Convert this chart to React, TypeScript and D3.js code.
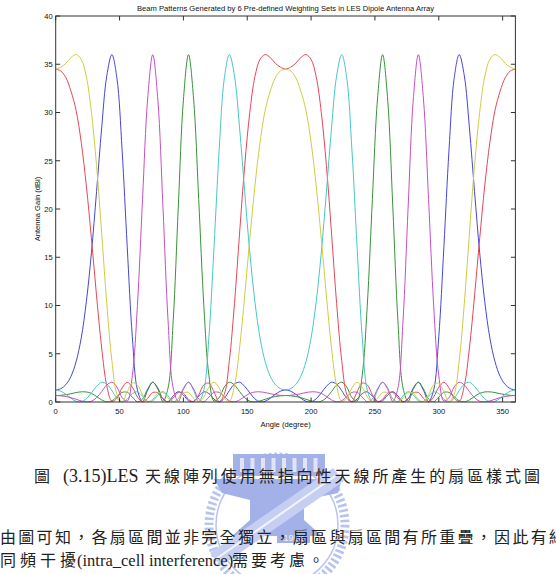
import React from "react";
import * as d3 from "d3";

// ---------- data ----------
const angles = [
  0, 4, 8, 12, 16, 20, 24, 28, 32, 36, 40, 44, 48, 52, 56, 60, 64, 68, 72, 76, 80, 84, 88, 92, 96, 100,
  104, 108, 112, 116, 120, 124, 128, 132, 136, 140, 144, 148, 152, 156, 160, 164, 168, 172, 176, 180,
  184, 188, 192, 196, 200, 204, 208, 212, 216, 220, 224, 228, 232, 236, 240, 244, 248, 252, 256, 260,
  264, 268, 272, 276, 280, 284, 288, 292, 296, 300, 304, 308, 312, 316, 320, 324, 328, 332, 336, 340,
  344, 348, 352, 356, 360,
];

const blueGain = [
  1.25, 1.38, 1.81, 2.67, 4.19, 6.64, 10.4, 15.5, 21.8, 28.4, 33.8, 36.0, 33.5, 26.1, 16.1, 6.77, 1.24, 0.04,
  1.21, 2.05, 1.44, 0.32, 0.04, 0.63, 1.07, 0.73, 0.13, 0.07, 0.61, 1.05, 0.87, 0.30, 0.0, 0.38, 1.18, 1.85,
  2.05, 1.62, 0.95, 0.33, 0.02, 0.07, 0.39, 0.80, 1.12, 1.25,
  1.12, 0.80, 0.39, 0.07, 0.02, 0.33, 0.95, 1.62, 2.05, 1.85, 1.18, 0.38, 0.0, 0.30, 0.87, 1.05, 0.61, 0.07,
  0.13, 0.73, 1.07, 0.63, 0.04, 0.32, 1.44, 2.05, 1.21, 0.04, 1.24, 6.77, 16.1, 26.1, 33.5, 36.0, 33.8, 28.4,
  21.8, 15.5, 10.4, 6.64, 4.19, 2.67, 1.81, 1.38, 1.25,
];

const greenGain = [
  0.67, 0.69, 0.76, 0.86, 0.98, 1.05, 1.04, 0.89, 0.57, 0.22, 0.01, 0.13, 0.56, 0.99, 1.0, 0.51, 0.02, 0.30,
  1.35, 2.04, 1.32, 0.06, 1.45, 8.4, 20.2, 31.3, 36.0, 31.4, 21.0, 10.0, 2.73, 0.10, 0.45, 1.54, 2.05, 1.76,
  1.08, 0.45, 0.08, 0.0, 0.11, 0.28, 0.45, 0.57, 0.64, 0.67,
  0.64, 0.57, 0.45, 0.28, 0.11, 0.0, 0.08, 0.45, 1.08, 1.76, 2.05, 1.54, 0.45, 0.10, 2.73, 10.0, 21.0, 31.4,
  36.0, 31.3, 20.2, 8.4, 1.45, 0.06, 1.32, 2.04, 1.35, 0.30, 0.02, 0.51, 1.0, 0.99, 0.56, 0.13, 0.01, 0.22,
  0.57, 0.89, 1.04, 1.05, 0.98, 0.86, 0.76, 0.69, 0.67,
];

const redGain = [
  34.5, 34.3, 33.6, 32.2, 30.2, 26.9, 22.4, 16.9, 11.0, 5.6, 1.70, 0.07, 0.39, 1.47, 2.04, 1.54, 0.53, 0.0,
  0.38, 0.98, 0.95, 0.35, 0.0, 0.42, 0.99, 0.91, 0.28, 0.03, 0.75, 1.77, 1.96, 1.04, 0.05, 0.8, 4.3, 10.2,
  17.5, 24.5, 30.0, 33.7, 35.5, 36.0, 35.7, 35.1, 34.7, 34.5,
  34.7, 35.1, 35.7, 36.0, 35.5, 33.7, 30.0, 24.5, 17.5, 10.2, 4.3, 0.8, 0.05, 1.04, 1.96, 1.77, 0.75, 0.03,
  0.28, 0.91, 0.99, 0.42, 0.0, 0.35, 0.95, 0.98, 0.38, 0.0, 0.53, 1.54, 2.04, 1.47, 0.39, 0.07, 1.70, 5.6,
  11.0, 16.9, 22.4, 26.9, 30.2, 32.2, 33.6, 34.3, 34.5,
];

const cyanGain = [
  1.25, 1.12, 0.80, 0.39, 0.07, 0.02, 0.33, 0.95, 1.62, 2.05, 1.85, 1.18, 0.38, 0.0, 0.30, 0.87, 1.05, 0.61,
  0.07, 0.13, 0.73, 1.07, 0.63, 0.04, 0.32, 1.44, 2.05, 1.21, 0.04, 1.24, 6.77, 16.1, 26.1, 33.5, 36.0, 33.8,
  28.4, 21.8, 15.5, 10.4, 6.64, 4.19, 2.67, 1.81, 1.38, 1.25,
  1.38, 1.81, 2.67, 4.19, 6.64, 10.4, 15.5, 21.8, 28.4, 33.8, 36.0, 33.5, 26.1, 16.1, 6.77, 1.24, 0.04, 1.21,
  2.05, 1.44, 0.32, 0.04, 0.63, 1.07, 0.73, 0.13, 0.07, 0.61, 1.05, 0.87, 0.30, 0.0, 0.38, 1.18, 1.85, 2.05,
  1.62, 0.95, 0.33, 0.02, 0.07, 0.39, 0.80, 1.12, 1.25,
];

const magentaGain = [
  0.67, 0.64, 0.57, 0.45, 0.28, 0.11, 0.0, 0.08, 0.45, 1.08, 1.76, 2.05, 1.54, 0.45, 0.10, 2.73, 10.0, 21.0,
  31.4, 36.0, 31.3, 20.2, 8.4, 1.45, 0.06, 1.32, 2.04, 1.35, 0.30, 0.02, 0.51, 1.0, 0.99, 0.56, 0.13, 0.01,
  0.22, 0.57, 0.89, 1.04, 1.05, 0.98, 0.86, 0.76, 0.69, 0.67,
  0.69, 0.76, 0.86, 0.98, 1.05, 1.04, 0.89, 0.57, 0.22, 0.01, 0.13, 0.56, 0.99, 1.0, 0.51, 0.02, 0.30, 1.35,
  2.04, 1.32, 0.06, 1.45, 8.4, 20.2, 31.3, 36.0, 31.4, 21.0, 10.0, 2.73, 0.10, 0.45, 1.54, 2.05, 1.76, 1.08,
  0.45, 0.08, 0.0, 0.11, 0.28, 0.45, 0.57, 0.64, 0.67,
];

const yellowGain = [
  34.5, 34.7, 35.1, 35.7, 36.0, 35.5, 33.7, 30.0, 24.5, 17.5, 10.2, 4.3, 0.8, 0.05, 1.04, 1.96, 1.77, 0.75,
  0.03, 0.28, 0.91, 0.99, 0.42, 0.0, 0.35, 0.95, 0.98, 0.38, 0.0, 0.53, 1.54, 2.04, 1.47, 0.39, 0.07, 1.70,
  5.6, 11.0, 16.9, 22.4, 26.9, 30.2, 32.2, 33.6, 34.3, 34.5,
  34.3, 33.6, 32.2, 30.2, 26.9, 22.4, 16.9, 11.0, 5.6, 1.70, 0.07, 0.39, 1.47, 2.04, 1.54, 0.53, 0.0, 0.38,
  0.98, 0.95, 0.35, 0.0, 0.42, 0.99, 0.91, 0.28, 0.03, 0.75, 1.77, 1.96, 1.04, 0.05, 0.8, 4.3, 10.2, 17.5,
  24.5, 30.0, 33.7, 35.5, 36.0, 35.7, 35.1, 34.7, 34.5,
];

const seriesOrder = ["blue", "green", "red", "cyan", "magenta", "yellow"];
const seriesValues = [blueGain, greenGain, redGain, cyanGain, magentaGain, yellowGain];
const seriesColors = ["#4646d6", "#38923a", "#e24858", "#48c6c6", "#c450c4", "#cccc46"];

const xTicks = [0, 50, 100, 150, 200, 250, 300, 350];
const yTicks = [0, 5, 10, 15, 20, 25, 30, 35, 40];

const titleText = "Beam Patterns Generated by 6 Pre-defined Weighting Sets in LES Dipole Antenna Array";
const xLabelText = "Angle (degree)";
const yLabelText = "Antenna Gain (dBi)";

const captionFig = "圖";
const captionNum = "(3.15)LES";
const captionRest = "天線陣列使用無指向性天線所產生的扇區樣式圖";
const bodyLine2 = "由圖可知，各扇區間並非完全獨立，扇區與扇區間有所重疊，因此有細";
const bodyLine3a = "同頻干擾";
const bodyLine3b = "(intra_cell interference)";
const bodyLine3c = "需要考慮。";
const logoYear = "1958";

// ---------- layout ----------
const W = 556;
const H = 574;
const L = 55.7;
const R = 515.4;
const T = 16;
const B = 402;

const CJK = "'Noto Sans CJK TC', 'Noto Sans CJK SC', sans-serif";
const SERIF = "'Liberation Serif', 'DejaVu Serif', serif";
const SANS = "'Liberation Sans', Arial, sans-serif";

function Watermark() {
  const cx = 277;
  const cy = 525;
  const c = "#b9c4ee";
  const c2 = "#a3b1e8";
  return (
    <g>
      <circle cx={cx} cy={cy} r={68} fill="none" stroke={c} strokeWidth={9} strokeDasharray="2.6 2.6" />
      <circle cx={cx} cy={cy} r={61} fill="none" stroke={c} strokeWidth={1.5} />
      <rect x={233} y={454} width={92} height={22} fill={c2} />
      {[0, 1, 2, 3, 4, 5, 6, 7].map((i) => (
        <rect key={i} x={240 + i * 10.5} y={458} width={4} height={14} fill="#dfe4f8" />
      ))}
      <path d="M214,479 L342,479 L338,493 L304,500 L304,520 L322,536 L232,536 L250,520 L250,500 L222,493 Z" fill={c2} />
      <path d="M210,553 L333,468 L344,481 L221,566 Z" fill="#c6cff2" />
      <path d="M216,559 L338,474" stroke="#f2f4fc" strokeWidth={2} />
      <rect x={277} y={531} width={33} height={12} fill={c2} />
      <text x={293.5} y={540.5} textAnchor="middle" fontFamily={SANS} fontSize={9} fill="#eef1fb">{logoYear}</text>
    </g>
  );
}

export default function App() {
  const x = d3.scaleLinear().domain([0, 360]).range([L, R]);
  const y = d3.scaleLinear().domain([0, 40]).range([B, T]);
  const line = d3
    .line<number>()
    .x((_, i) => x(angles[i]))
    .y((d) => y(d))
    .curve(d3.curveCatmullRom.alpha(0.5));

  const tickLen = 4.5;

  return (
    <svg
      width={W}
      height={H}
      viewBox={`0 0 ${W} ${H}`}
      style={{ position: "absolute", left: 0, top: 0, display: "block" }}
    >
      <rect x={0} y={0} width={W} height={H} fill="#ffffff" />
      <defs>
        <clipPath id="plotClip">
          <rect x={L} y={T} width={R - L} height={B - T + 0.5} />
        </clipPath>
      </defs>

      {/* title */}
      <text x={(L + R) / 2} y={10.5} textAnchor="middle" fontFamily={SANS} fontSize={7.6} fill="#111">
        {titleText}
      </text>

      {/* curves */}
      <g clipPath="url(#plotClip)">
        {seriesValues.map((vals, k) => (
          <path
            key={seriesOrder[k]}
            d={line(vals) || ""}
            fill="none"
            stroke={seriesColors[k]}
            strokeWidth={1}
          />
        ))}
      </g>

      {/* axes box */}
      <rect x={L} y={T} width={R - L} height={B - T} fill="none" stroke="#333" strokeWidth={1} />

      {/* x ticks */}
      {xTicks.map((t) => (
        <g key={"x" + t}>
          <line x1={x(t)} x2={x(t)} y1={B} y2={B - tickLen} stroke="#333" strokeWidth={1} />
          <line x1={x(t)} x2={x(t)} y1={T} y2={T + tickLen} stroke="#333" strokeWidth={1} />
          <text x={x(t)} y={413.5} textAnchor="middle" fontFamily={SANS} fontSize={7.6} fill="#111">
            {t}
          </text>
        </g>
      ))}

      {/* y ticks */}
      {yTicks.map((t) => (
        <g key={"y" + t}>
          <line x1={L} x2={L + tickLen} y1={y(t)} y2={y(t)} stroke="#333" strokeWidth={1} />
          <line x1={R} x2={R - tickLen} y1={y(t)} y2={y(t)} stroke="#333" strokeWidth={1} />
          <text x={L - 3} y={y(t) + 2.8} textAnchor="end" fontFamily={SANS} fontSize={7.6} fill="#111">
            {t}
          </text>
        </g>
      ))}

      {/* axis labels */}
      <text x={(L + R) / 2} y={427} textAnchor="middle" fontFamily={SANS} fontSize={7.6} fill="#111">
        {xLabelText}
      </text>
      <text
        transform={`translate(39.5, ${(T + B) / 2}) rotate(-90)`}
        textAnchor="middle"
        fontFamily={SANS}
        fontSize={7.6}
        fill="#111"
      >
        {yLabelText}
      </text>

      <Watermark />

      {/* caption */}
      <text y={482} fill="#222">
        <tspan x={34} fontFamily={CJK} fontSize={16}>{captionFig}</tspan>
        <tspan x={63} fontFamily={SERIF} fontSize={18}>{captionNum}</tspan>
        <tspan x={145} fontFamily={CJK} fontSize={16} textLength={395} lengthAdjust="spacing">
          {captionRest}
        </tspan>
      </text>
      <text y={543} fill="#222">
        <tspan x={0} fontFamily={CJK} fontSize={16} textLength={565} lengthAdjust="spacing">
          {bodyLine2}
        </tspan>
      </text>
      <text y={566} fill="#222">
        <tspan x={0} fontFamily={CJK} fontSize={16} textLength={76} lengthAdjust="spacing">
          {bodyLine3a}
        </tspan>
        <tspan x={77} fontFamily={SERIF} fontSize={16.5}>{bodyLine3b}</tspan>
        <tspan x={232} fontFamily={CJK} fontSize={16} textLength={92} lengthAdjust="spacing">
          {bodyLine3c}
        </tspan>
      </text>
    </svg>
  );
}
